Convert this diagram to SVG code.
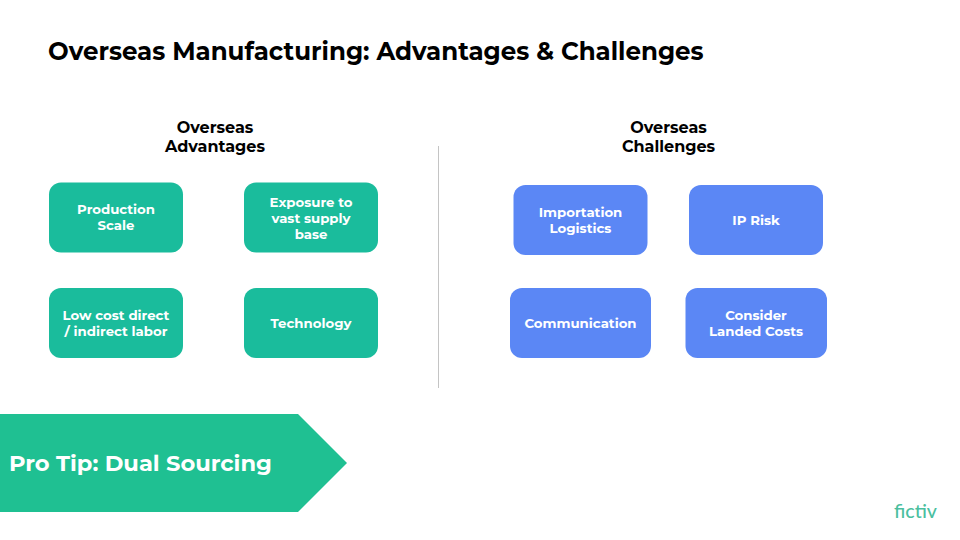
<svg xmlns="http://www.w3.org/2000/svg" width="960" height="540" viewBox="0 0 960 540">
<style>
text{font-family:Montserrat,"Inter","Noto Sans",sans-serif;font-weight:700;text-anchor:middle}
.n{font-size:13.3px;fill:#fff}
.h{font-size:16px;fill:#000}
.g{fill:#1abc9c}
.b{fill:#5b87f5}
</style>
<rect width="960" height="540" fill="#fff"/>
<text x="48" y="60" style="text-anchor:start;font-size:24.5px">Overseas Manufacturing: Advantages &amp; Challenges</text>
<g id="h1"><text class="h" x="215" y="132.500">Overseas</text><text class="h" x="215" y="151.500">Advantages</text></g>
<g id="h2"><text class="h" x="668.500" y="132.500">Overseas</text><text class="h" x="668.500" y="151.500">Challenges</text></g>
<g id="connectors"><line x1="438.500" y1="146" x2="438.500" y2="388" stroke="#c4c4c4"/></g>
<g id="n1"><rect class="g" x="49" y="182.500" width="134" height="70" rx="12"/><text class="n" x="116" y="214">Production</text><text class="n" x="116" y="230">Scale</text></g>
<g id="n2"><rect class="g" x="244" y="182.500" width="134" height="70" rx="12"/><text class="n" x="311" y="206.500">Exposure to</text><text class="n" x="311" y="222.500">vast supply</text><text class="n" x="311" y="238.500">base</text></g>
<g id="n3"><rect class="g" x="49" y="288" width="134" height="70" rx="12"/><text class="n" x="116" y="320">Low cost direct</text><text class="n" x="116" y="336">/ indirect labor</text></g>
<g id="n4"><rect class="g" x="244" y="288" width="134" height="70" rx="12"/><text class="n" x="311" y="328">Technology</text></g>
<g id="n5"><rect class="b" x="513.500" y="185" width="134" height="70" rx="12"/><text class="n" x="580.500" y="217">Importation</text><text class="n" x="580.500" y="233">Logistics</text></g>
<g id="n6"><rect class="b" x="689" y="185" width="134" height="70" rx="12"/><text class="n" x="756" y="225">IP Risk</text></g>
<g id="n7"><rect class="b" x="510" y="288" width="141" height="70" rx="12"/><text class="n" x="580.500" y="328">Communication</text></g>
<g id="n8"><rect class="b" x="685.500" y="288" width="141.500" height="70" rx="12"/><text class="n" x="756" y="320">Consider</text><text class="n" x="756" y="336">Landed Costs</text></g>
<g id="tip"><polygon points="0,414 298,414 347,463 298,512 0,512" fill="#1fc092"/><text x="9" y="471" style="text-anchor:start;font-size:22.6px;fill:#fff">Pro Tip: Dual Sourcing</text></g>
<text x="915.500" y="518" style="font-family:Lato,Montserrat,sans-serif;font-size:19.5px;font-weight:500;fill:#4bbf9f">fictiv</text>
</svg>
